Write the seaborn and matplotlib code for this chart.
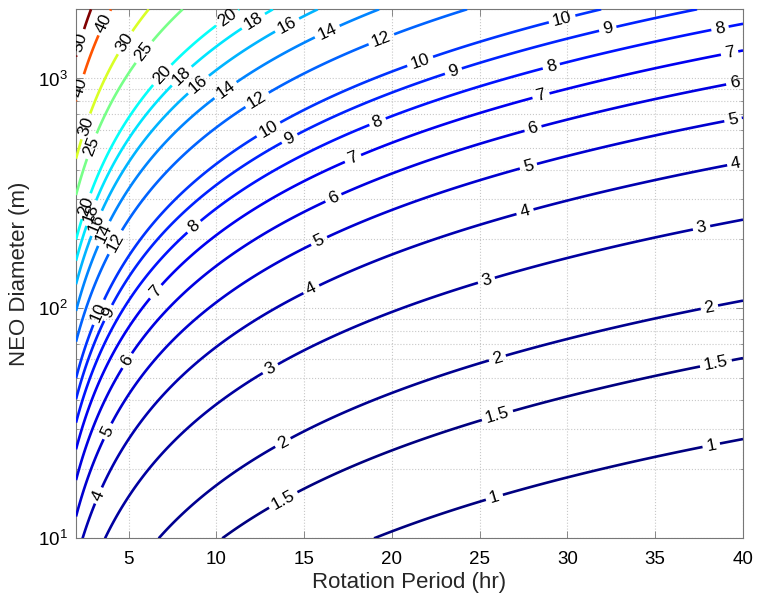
import numpy as np
import matplotlib
matplotlib.use("Agg")
import matplotlib.pyplot as plt
import matplotlib.colors as mcolors
import matplotlib.ticker as mticker
import seaborn as sns

# ---- data ----
period_range = [2, 40]            # rotation period, hr
diameter_range = [10, 2000]       # NEO diameter, m
contour_levels = [1, 1.5, 2, 3, 4, 5, 6, 7, 8, 9, 10, 12, 14, 16, 18, 20, 25, 30, 40, 50]
# surface model: value = coeff * D**d_exp / P**p_exp
coeff = 2.25
d_exp = 0.5
p_exp = 2.0 / 3.0
x_ticks = [5, 10, 15, 20, 25, 30, 35, 40]

# label anchor points (period, diameter) as seen in the reference
label_spots = {
    50: [(2.32, 1432)],
    40: [(3.75, 1722), (2.32, 912)],
    30: [(4.79, 1432), (2.5, 621)],
    25: [(5.93, 1294), (2.89, 508)],
    20: [(6.88, 1042), (10.6, 1841), (2.61, 278)],
    18: [(7.93, 1042), (12.1, 1778), (2.80, 261)],
    16: [(8.97, 942), (14.0, 1722), (3.08, 236)],
    14: [(10.49, 896), (16.3, 1607), (3.46, 214)],
    12: [(12.3, 811), (19.4, 1479), (4.13, 196)],
    10: [(12.96, 601), (21.6, 1191), (29.7, 1807), (3.18, 97)],
    9: [(14.2, 542), (23.5, 1076), (32.3, 1637), (3.84, 95.5)],
    8: [(8.78, 224), (19.2, 643), (29.1, 1114), (38.7, 1637)],
    7: [(6.5, 119), (17.8, 445), (28.5, 838), (39.25, 1273)],
    6: [(4.98, 58.8), (16.66, 303), (28.05, 600), (39.55, 944)],
    5: [(3.84, 29.1), (15.9, 193), (27.8, 408), (39.45, 652)],
    4: [(3.24, 15.4), (15.43, 120), (27.6, 260), (39.6, 423)],
    3: [(13.05, 55), (25.4, 131), (37.65, 222)],
    2: [(13.74, 26.5), (26.0, 61), (38.1, 100)],
    1.5: [(13.74, 15), (26.0, 34.4), (38.47, 56.9)],
    1: [(25.8, 15.4), (38.2, 25.2)],
}

# ---- styling ----
sns.set_theme(style="ticks")
plt.rcParams["font.family"] = ["Liberation Sans", "DejaVu Sans"]
plt.rcParams["mathtext.fontset"] = "custom"
plt.rcParams["mathtext.rm"] = "Liberation Sans"
plt.rcParams["mathtext.it"] = "Liberation Sans:italic"

# MATLAB-style jet colormap (64 steps)
_x = np.linspace(0, 1, 64)
_jet = np.stack([np.clip(1.5 - np.abs(4 * _x - 3), 0, 1),
                 np.clip(1.5 - np.abs(4 * _x - 2), 0, 1),
                 np.clip(1.5 - np.abs(4 * _x - 1), 0, 1)], axis=1)
cmap = mcolors.ListedColormap(_jet, name="matlab_jet")
norm = mcolors.Normalize(vmin=min(contour_levels), vmax=max(contour_levels))

fig = plt.figure(figsize=(7.58, 5.99), dpi=100)
fig.patch.set_facecolor("white")
ax = fig.add_axes([0.1003, 0.1013, 0.8799, 0.8832])
ax.set_facecolor("white")
ax.set_yscale("log")
ax.set_xlim(*period_range)
ax.set_ylim(*diameter_range)

P = np.linspace(period_range[0], period_range[1], 500)
D = np.logspace(np.log10(diameter_range[0]), np.log10(diameter_range[1]), 500)
PP, DD = np.meshgrid(P, D)
Z = coeff * DD ** d_exp / PP ** p_exp

for lev in contour_levels:
    cs = ax.contour(PP, DD, Z, levels=[lev], colors=[cmap(norm(lev))],
                    linewidths=1.9, zorder=3)
    spots = label_spots.get(lev, [])
    if spots:
        ax.clabel(cs, manual=spots, inline=True, inline_spacing=4,
                  fontsize=12.5, colors="black", fmt="%g")

ax.set_xticks(x_ticks)
ax.xaxis.set_major_formatter(mticker.FormatStrFormatter("%g"))
ax.yaxis.set_major_locator(mticker.LogLocator(base=10, numticks=10))
ax.yaxis.set_minor_locator(mticker.LogLocator(base=10, subs=np.arange(2, 10), numticks=20))
ax.yaxis.set_minor_formatter(mticker.NullFormatter())

ax.grid(True, which="major", axis="both", color="#c8c8c8", linestyle=":", linewidth=0.8, zorder=0)
ax.grid(True, which="minor", axis="y", color="#c8c8c8", linestyle=":", linewidth=0.8, zorder=0)
ax.set_axisbelow(True)

ax.tick_params(axis="both", which="both", direction="in", top=True, right=True,
               labelsize=13.5, color="#777777", labelcolor="black")
ax.tick_params(axis="x", which="major", length=5, width=0.6, pad=9)
ax.tick_params(axis="y", which="major", length=5, width=0.6, pad=6)
ax.tick_params(axis="both", which="minor", length=2.5, width=0.5)
for sp in ax.spines.values():
    sp.set_color("#777777")
    sp.set_linewidth(0.8)

ax.set_xlabel("Rotation Period (hr)", fontsize=16, labelpad=3)
ax.set_ylabel("NEO Diameter (m)", fontsize=16, labelpad=6)

fig.savefig("out.png", dpi=100, facecolor="white")
